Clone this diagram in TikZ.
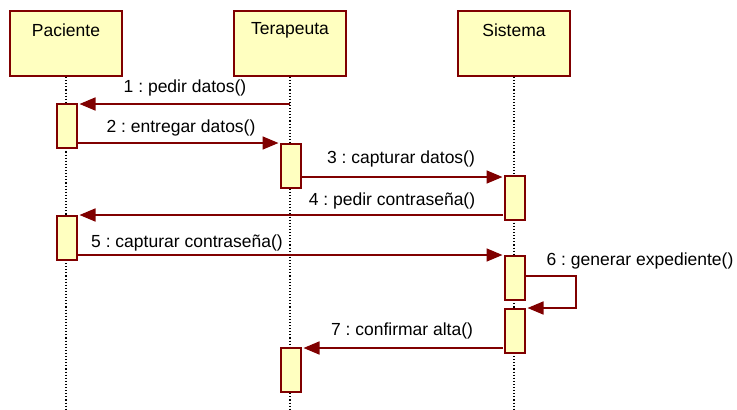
\documentclass[tikz,border=0pt]{standalone}
\usepackage{fontspec}
\setmainfont{Liberation Sans}
\usetikzlibrary{arrows.meta}
\definecolor{umlred}{RGB}{128,0,0}
\definecolor{umlfill}{RGB}{255,255,192}
\tikzset{
  headbox/.style={draw=umlred, fill=umlfill, line width=2pt, minimum width=112pt, minimum height=65pt, anchor=north west, inner sep=0pt},
  actbox/.style={draw=umlred, fill=umlfill, line width=2pt, minimum width=20pt, minimum height=44pt, anchor=north west, inner sep=0pt},
  life/.style={draw=black, dotted, line width=1.1pt},
  msg/.style={draw=umlred, line width=1.6pt, -{Triangle[length=16pt,width=13pt]}, shorten >=1.5pt},
  lbl/.style={font=\fontsize{17.5}{20}\selectfont, inner sep=0pt},
}
\frenchspacing
\begin{document}
\begin{tikzpicture}[x=1pt,y=-1pt]
\useasboundingbox (0,0) rectangle (737,410);
% heads
\node[headbox] (pac) at (9,10) {};
\node[headbox] (ter) at (233,10) {};
\node[headbox] (sis) at (457,10) {};
\node[lbl] at ([yshift=-20pt]pac.north) {Paciente};
\node[lbl] at ([yshift=-20pt]ter.north) {Terapeuta};
\node[lbl] at ([yshift=-20pt]sis.north) {Sistema};
% lifeline ends
\coordinate (pacend) at (pac.south |- 0,410);
\coordinate (terend) at (ter.south |- 0,410);
\coordinate (sisend) at (sis.south |- 0,410);
\draw[life] (pac.south) -- (pacend);
\draw[life] (ter.south) -- (terend);
\draw[life] (sis.south) -- (sisend);
% activations
\node[actbox] (pa1) at (56,103) {};
\node[actbox] (ta1) at (280,143) {};
\node[actbox] (sa1) at (504,175) {};
\node[actbox] (pa2) at (56,215) {};
\node[actbox] (sa2) at (504,255) {};
\node[actbox] (sa3) at (504,308) {};
\node[actbox] (ta2) at (280,347) {};
% messages
\coordinate (m1) at (ter.south |- 0,104);
\draw[msg] (m1) -- (pa1.east |- m1);
\node[lbl] at (185,88) {1 : pedir datos()};
\coordinate (m2) at (78,143);
\draw[msg] (m2) -- (ta1.north west);
\node[lbl] at (181,128) {2 : entregar datos()};
\coordinate (m3) at (302,177);
\draw[msg] (m3) -- (sa1.west |- m3);
\node[lbl] at (401,159) {3 : capturar datos()};
\coordinate (m4) at (503,215);
\draw[msg] (m4) -- (pa2.north east);
\node[lbl] at (392,201) {4 : pedir contraseña()};
\coordinate (m5) at (78,255);
\draw[msg] (m5) -- (sa2.north west);
\node[lbl] at (187,243) {5 : capturar contraseña()};
\coordinate (m6) at (526,276);
\draw[msg] (m6) -- (576,276) -- (576,308) -- (sa3.north east);
\node[lbl] at (640,261) {6 : generar expediente()};
\coordinate (m7) at (503,348);
\draw[msg] (m7) -- (ta2.east |- m7);
\node[lbl] at (402,331) {7 : confirmar alta()};
\end{tikzpicture}
\end{document}
